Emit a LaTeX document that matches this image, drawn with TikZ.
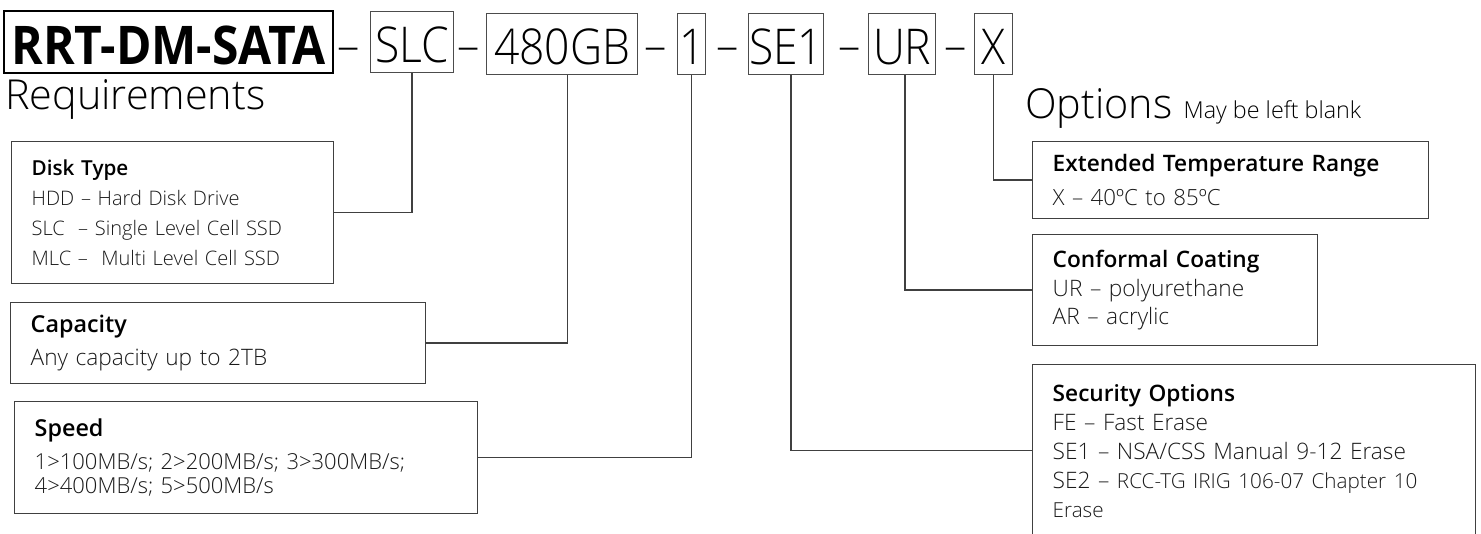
\documentclass[tikz,border=0pt]{standalone}
\usepackage{fontspec}
\setmainfont{Open Sans}
\newfontfamily\thinfont{Open Sans Light}
\newfontfamily\semifont{Open Sans Semibold}
\newfontfamily\titlefont{Open Sans}[FakeStretch=0.9]
\newfontfamily\codefont{Open Sans Light}[FakeStretch=0.9]
\usetikzlibrary{positioning}

\tikzset{
  partbox/.style={draw=black!70, line width=1pt, inner sep=0pt, anchor=north west,
    minimum height=45.75pt, text height=31pt, text depth=0pt,
    font=\codefont\fontsize{37}{37}\selectfont},
  joiner/.style={anchor=base, inner sep=0pt, font=\codefont\fontsize{37}{37}\selectfont},
  infobox/.style={draw=black!75, line width=1.1pt, anchor=north west, inner xsep=15pt,
    inner ysep=0pt, align=left, text=black!90},
  link/.style={draw=black!75, line width=1.1pt},
}
\newcommand{\boxhead}[2]{{\semifont\color{black}\fontsize{#1}{23}\selectfont #2}}

\begin{document}
\begin{tikzpicture}[x=0.75pt, y=-0.75pt]
  \useasboundingbox (0,0) rectangle (1481,534);
  % part number
  \node[partbox, draw=black, line width=1.8pt, minimum width=246.75pt, minimum height=46.5pt,
    text height=33pt, font=\titlefont\bfseries\fontsize{40}{40}\selectfont] (base) at (3,10) {RRT-DM-SATA};
  \node[partbox, minimum width=62.25pt] (slc) at (370,11) {SLC};
  \node[partbox, minimum width=113.25pt] (gb) at (486,13) {480GB};
  \node[partbox, minimum width=21pt] (one) at (677,13) {1};
  \node[partbox, minimum width=56.25pt] (se1) at (748,13) {SE1};
  \node[partbox, minimum width=50.25pt] (ur) at (868,13) {UR};
  \node[partbox, minimum width=28.5pt] (xopt) at (974,13) {X};
  \node[joiner] (d1) at (349,63) {–};
  \node[joiner] (d2) at (469,63) {–};
  \node[joiner] (d3) at (656,63) {–};
  \node[joiner] (d4) at (728,63) {–};
  \node[joiner] (d5) at (850,63) {–};
  \node[joiner] (d6) at (956,63) {–};

  \node[anchor=base west, inner sep=0pt, font=\thinfont\fontsize{31}{31}\selectfont] (req) at (5,110) {Requirements};
  \node[anchor=base west, inner sep=0pt, font=\thinfont\fontsize{31}{31}\selectfont] (opt) at (1025,119) {Options};
  \node[anchor=base west, inner sep=0pt, font=\thinfont\fontsize{17.5}{18}\selectfont] (optnote) at ([xshift=8pt]opt.base east) {May be left blank};

  % requirement boxes
  \node[infobox, text width=211.5pt, minimum height=106.5pt, font=\thinfont\fontsize{15}{22.5}\selectfont] (disk) at (11,141)
    {\boxhead{15.5}{Disk Type}\\
     HDD – Hard Disk Drive\\
     SLC\ \ – Single Level Cell SSD\\
     MLC –\ \ Multi Level Cell SSD};
  \node[infobox, text width=281.25pt, minimum height=60.75pt, font=\thinfont\fontsize{17}{25}\selectfont] (cap) at (10,302)
    {\boxhead{17.5}{Capacity}\\
     Any capacity up to 2TB};
  \node[infobox, text width=317.25pt, minimum height=84pt, font=\thinfont\fontsize{16.5}{18.5}\selectfont] (speed) at (14,401)
    {\boxhead{17.5}{Speed}\\[6pt]
     1>100MB/s; 2>200MB/s; 3>300MB/s;\\
     4>400MB/s; 5>500MB/s};

  % option boxes
  \node[infobox, text width=267pt, minimum height=57.75pt, font=\thinfont\fontsize{16.7}{25.5}\selectfont] (temp) at (1032,141)
    {\boxhead{17}{Extended Temperature Range}\\
     X – 40ºC to 85ºC};
  \node[infobox, text width=183.75pt, minimum height=83.25pt, font=\thinfont\fontsize{17}{21.5}\selectfont] (coat) at (1032,234)
    {\boxhead{17}{Conformal Coating}\\
     UR – polyurethane\\
     AR – acrylic};
  \node[infobox, text width=302.25pt, minimum height=129pt, font=\thinfont\fontsize{17}{21.75}\selectfont] (sec) at (1032,364)
    {\boxhead{17}{Security Options}\\
     FE – Fast Erase\\
     SE1 – NSA/CSS Manual 9-12 Erase\\
     SE2 – {\fontsize{15.5}{21.75}\selectfont RCC-TG IRIG 106-07 Chapter 10}\\
     {\fontsize{15.5}{21.75}\selectfont Erase}};

  % connectors
  \draw[link] (slc.south) |- (disk.east);
  \draw[link] ([xshift=4pt]gb.south) |- (cap.east);
  \draw[link] (one.south) |- (speed.east);
  \draw[link] ([xshift=3.5pt]se1.south) |- (sec.west);
  \draw[link] ([xshift=2pt]ur.south) |- (coat.west);
  \draw[link] (xopt.south) |- (temp.west);
\end{tikzpicture}
\end{document}
